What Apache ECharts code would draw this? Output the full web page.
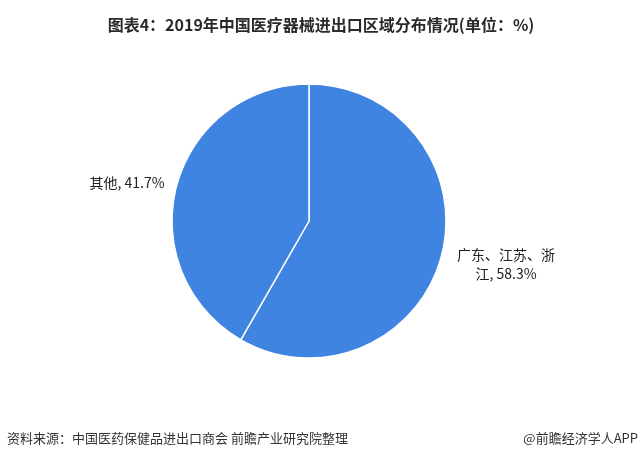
<!DOCTYPE html>
<html><head><meta charset="utf-8">
<script src="https://cdn.jsdelivr.net/npm/echarts@6/dist/echarts.min.js"></script>
<style>html,body{margin:0;padding:0;background:#fff}#c{width:642px;height:461px}</style>
</head><body><div id="c"></div>
<script>
var categories = ['广东、江苏、浙\n江', '其他'];
var values = [58.3, 41.7];
var titleText = '图表4：2019年中国医疗器械进出口区域分布情况(单位：%)';
var sourceText = '资料来源：中国医药保健品进出口商会 前瞻产业研究院整理';
var brandText = '@前瞻经济学人APP';

var chart = echarts.init(document.getElementById('c'));
var data = categories.map(function(c, i){ return {name: c, value: values[i]}; });
var labelPos = [[506, 264], [127, 183]];
chart.setOption({
  backgroundColor: '#fff',
  animation: false,
  title: {
    text: titleText, left: 'center', top: 12,
    textStyle: {fontSize: 16, fontWeight: 'bold', color: '#2a2a2a', fontFamily: 'Noto Sans CJK SC'}
  },
  graphic: [
    {type: 'text', left: 7, top: 432, style: {text: sourceText, fontSize: 13, fill: '#333', fontFamily: 'Noto Sans CJK SC'}},
    {type: 'text', right: 4, top: 432, style: {text: brandText, fontSize: 13, fill: '#333', fontFamily: 'Noto Sans CJK SC'}}
  ],
  series: [{
    type: 'pie',
    center: [309, 221],
    radius: [0, 137],
    startAngle: 90,
    clockwise: true,
    itemStyle: {color: '#3f84e0', borderColor: '#fff', borderWidth: 1.5},
    label: {
      show: true, position: 'outside',
      formatter: function(p){ return p.name + ', ' + p.value + '%'; },
      fontSize: 14, color: '#222', fontFamily: 'Noto Sans CJK SC', lineHeight: 19
    },
    labelLine: {show: false},
    labelLayout: function(p){
      var pos = labelPos[p.dataIndex];
      return {x: pos[0], y: pos[1], align: 'center', verticalAlign: 'middle'};
    },
    data: data
  }]
});
</script></body></html>
